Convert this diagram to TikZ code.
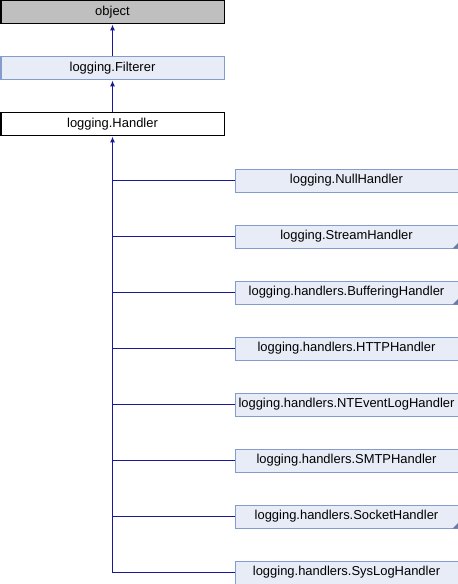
\documentclass[tikz,border=0pt]{standalone}
\usepackage{fontspec}
\setmainfont{Liberation Sans}
\usetikzlibrary{arrows.meta, positioning}

\definecolor{edgeblue}{RGB}{25,25,150}
\definecolor{boxfill}{RGB}{232,236,246}
\definecolor{boxline}{RGB}{132,155,206}
\definecolor{rootfill}{RGB}{191,191,191}

\tikzset{
  classbox/.style={draw=boxline, fill=boxfill, line width=1bp, minimum width=223bp,
    minimum height=23bp, inner sep=0pt, anchor=north west,
    font=\fontsize{13}{15}\selectfont},
  rootbox/.style={classbox, draw=black, fill=rootfill},
  basebox/.style={classbox, draw=black, fill=white},
  edge/.style={draw=edgeblue, line width=1bp, -{Latex[length=6bp,width=5bp]}},
  branch/.style={draw=edgeblue, line width=1bp}
}

\begin{document}
\begin{tikzpicture}[x=1bp, y=-1bp]
\useasboundingbox (0,0) rectangle (458,584);

% Base classes
\node[rootbox] (object) at (0.5,0.5) {object};
\node[classbox] (filterer) at (0.5,56.5) {logging.Filterer};
\node[basebox] (handler) at (0.5,112.5) {logging.Handler};

\draw[edge] (filterer) -- (object);
\draw[edge] (handler) -- (filterer);

% Derived handlers
\foreach \name/\label/\idx/\more in {
    nullh/logging.NullHandler/0/0,
    streamh/logging.StreamHandler/1/1,
    bufferh/logging.handlers.BufferingHandler/2/1,
    httph/logging.handlers.HTTPHandler/3/0,
    nteventh/logging.handlers.NTEventLogHandler/4/0,
    smtph/logging.handlers.SMTPHandler/5/0,
    socketh/logging.handlers.SocketHandler/6/1,
    syslogh/logging.handlers.SysLogHandler/7/0} {
  \node[classbox] (\name) at (234.5,{168.5+56*\idx}) {\label};
  \draw[branch] (handler.south |- \name.west) -- (\name.west);
  \ifnum\more=1
    \fill[boxline!80!black] (\name.south east) -- ++(-6,0) -- ++(6,-6) -- cycle;
  \fi
}

% Trunk
\coordinate (trunkend) at (handler.south |- syslogh.west);
\draw[edge] (trunkend) -- (handler);
\end{tikzpicture}
\end{document}
